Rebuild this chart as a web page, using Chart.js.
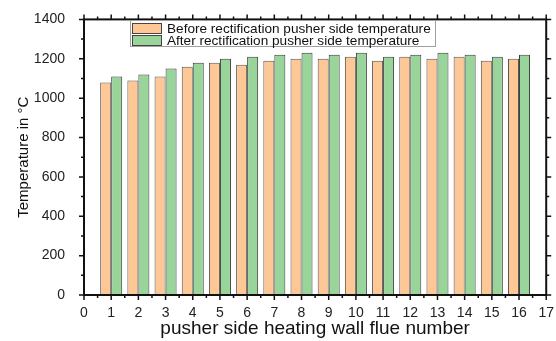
<!DOCTYPE html>
<html>
<head>
<meta charset="utf-8">
<script src="https://cdn.jsdelivr.net/npm/chart.js@4"></script>
<style>
  body { margin: 0; background: #fff; }
  #wrap { position: relative; width: 556px; height: 341px; }
  #legend {
    position: absolute; left: 130px; top: 20px; width: 306px; height: 27px;
    border: 1px solid #a0a0a0; background: #fff; box-sizing: border-box;
    font-family: "Liberation Sans", Arial, sans-serif; font-size: 13.6px; color: #111;
    padding: 1px 0 0 1px;
  }
  .row { display: flex; align-items: center; height: 12px; white-space: nowrap; }
  .sw { width: 30px; height: 11px; border: 1px solid #444; box-sizing: border-box; margin-right: 5px; flex: none; }
</style>
</head>
<body>
<div id="wrap">
  <canvas id="c" width="556" height="341"></canvas>
  <div id="legend"></div>
</div>
<script>
// flue numbers and temperatures
const flues = [1, 2, 3, 4, 5, 6, 7, 8, 9, 10, 11, 12, 13, 14, 15, 16];
const beforeTemp = [1080, 1090, 1110, 1160, 1180, 1170, 1190, 1200, 1200, 1210, 1190, 1210, 1200, 1210, 1190, 1200];
const afterTemp  = [1110, 1120, 1150, 1180, 1200, 1210, 1220, 1230, 1220, 1230, 1210, 1220, 1230, 1220, 1210, 1220];
const seriesNames = ['Before rectification pusher side temperature', 'After rectification pusher side temperature'];
const colors = ['#fdc896', '#99d49b'];

const font = '"Liberation Sans", Arial, sans-serif';

// draws the box frame plus major/minor outward ticks on all four sides
const frameTicks = {
  id: 'frameTicks',
  afterDraw(chart) {
    const { ctx, chartArea: a, scales } = chart;
    const x = scales.x, y = scales.y;
    ctx.save();
    ctx.strokeStyle = '#111';
    ctx.lineWidth = 2;
    ctx.strokeRect(a.left, a.top, a.right - a.left, a.bottom - a.top);
    ctx.lineWidth = 1.5;
    ctx.beginPath();
    for (let v = 0; v <= 1400; v += 100) {
      const py = y.getPixelForValue(v);
      const len = v % 200 === 0 ? 5 : 3;
      ctx.moveTo(a.left, py); ctx.lineTo(a.left - len, py);
      ctx.moveTo(a.right, py); ctx.lineTo(a.right + len, py);
    }
    for (let v = 0; v <= 17; v += 0.5) {
      const px = x.getPixelForValue(v);
      const len = v % 1 === 0 ? 5 : 3;
      ctx.moveTo(px, a.bottom); ctx.lineTo(px, a.bottom + len);
      ctx.moveTo(px, a.top); ctx.lineTo(px, a.top - len);
    }
    ctx.stroke();
    ctx.restore();
  }
};

new Chart(document.getElementById('c'), {
  type: 'bar',
  data: {
    datasets: [
      {
        label: seriesNames[0],
        data: flues.map((f, i) => ({ x: f, y: beforeTemp[i] })),
        backgroundColor: colors[0],
        borderColor: '#555',
        borderWidth: 1
      },
      {
        label: seriesNames[1],
        data: flues.map((f, i) => ({ x: f, y: afterTemp[i] })),
        backgroundColor: colors[1],
        borderColor: '#3c3c3c',
        borderWidth: 1
      }
    ]
  },
  options: {
    responsive: false,
    animation: false,
    categoryPercentage: 0.81,
    barPercentage: 1.0,
    layout: { padding: { top: 15, right: 7, left: 0, bottom: 0 } },
    plugins: { legend: { display: false }, tooltip: { enabled: false } },
    scales: {
      x: {
        type: 'linear',
        min: 0, max: 17,
        offset: false,
        grid: { display: false },
        border: { display: false },
        ticks: { stepSize: 1, color: '#222', font: { family: font, size: 14 }, padding: 2, maxRotation: 0 },
        title: { display: true, text: 'pusher side heating wall flue number', color: '#111', font: { family: font, size: 19 }, padding: { top: 0, bottom: 1 } },
        afterFit(s) { s.height = 46; }
      },
      y: {
        min: 0, max: 1400,
        grid: { display: false },
        border: { display: false },
        ticks: { stepSize: 200, color: '#222', font: { family: font, size: 14 }, padding: 11, callback: v => String(v) },
        title: { display: true, text: 'Temperature in °C', color: '#111', font: { family: font, size: 15 }, padding: { top: 15, bottom: 0 } },
        afterFit(s) { s.width = 84; }
      }
    }
  },
  plugins: [frameTicks]
});

// legend inside the plot box
const lg = document.getElementById('legend');
seriesNames.forEach((n, i) => {
  const r = document.createElement('div');
  r.className = 'row';
  r.innerHTML = '<span class="sw" style="background:' + colors[i] + '"></span><span>' + n + '</span>';
  lg.appendChild(r);
});
</script>
</body>
</html>
